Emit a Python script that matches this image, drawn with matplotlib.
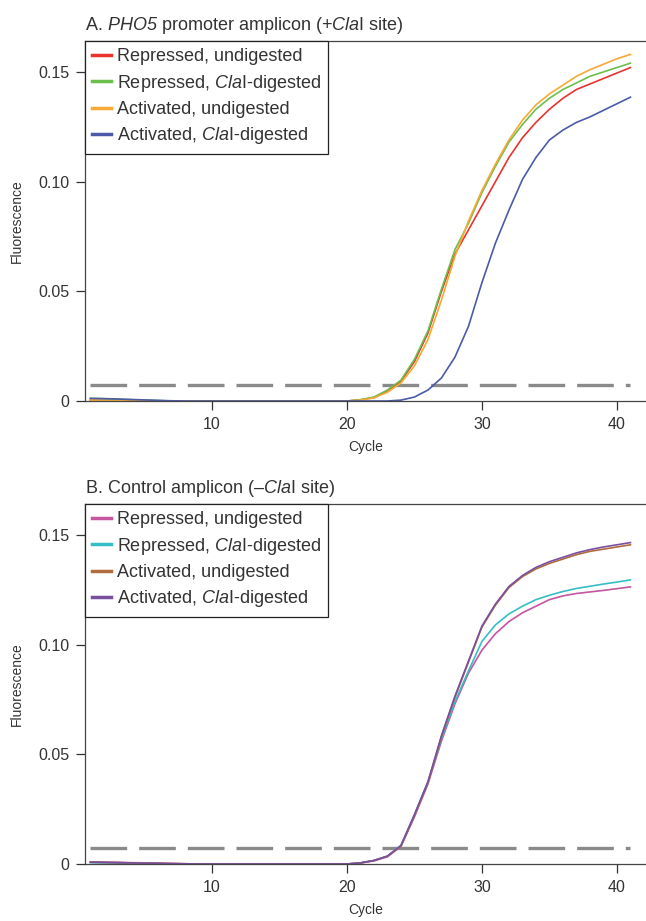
import matplotlib
matplotlib.use("Agg")
import matplotlib.pyplot as plt

plt.rcParams['font.family'] = ['Liberation Sans', 'DejaVu Sans']
plt.rcParams['mathtext.fontset'] = 'custom'
plt.rcParams['mathtext.rm'] = 'Liberation Sans'
plt.rcParams['mathtext.it'] = 'Liberation Sans:italic'
# \mathcal is used for italic runs so that digits (PHO5) stay italic too
plt.rcParams['mathtext.cal'] = 'Liberation Sans:italic'

TEXT = '#333333'

# ---- data ----
cycles = list(range(1, 42))

# Panel A: PHO5 promoter amplicon
a_rep_undig = [0.0004, 0.0003, 0.0002, 0.0001] + [0.0] * 16 + [
    0.0005, 0.0016, 0.0046, 0.009, 0.018, 0.031, 0.050, 0.067, 0.078, 0.089, 0.100,
    0.111, 0.120, 0.127, 0.133, 0.138, 0.142, 0.1445, 0.147, 0.1495, 0.152]
a_rep_dig = [0.0012, 0.0010, 0.0008, 0.0006, 0.0004, 0.0002] + [0.0] * 14 + [
    0.0006, 0.0018, 0.0050, 0.0095, 0.019, 0.032, 0.051, 0.069, 0.081, 0.095, 0.107,
    0.118, 0.126, 0.133, 0.138, 0.142, 0.145, 0.148, 0.150, 0.152, 0.154]
a_act_undig = [0.0003, 0.0002, 0.0001] + [0.0] * 17 + [
    0.0004, 0.0014, 0.0040, 0.0082, 0.016, 0.028, 0.046, 0.066, 0.082, 0.096, 0.108,
    0.119, 0.128, 0.135, 0.140, 0.144, 0.148, 0.151, 0.1535, 0.156, 0.158]
a_act_dig = [0.0012, 0.0011, 0.0009, 0.0007, 0.0005, 0.0003, 0.0001] + [0.0] * 16 + [
    0.0004, 0.0018, 0.0050, 0.0105, 0.020, 0.034, 0.054, 0.072, 0.087, 0.101, 0.111,
    0.119, 0.1235, 0.127, 0.1295, 0.1325, 0.1355, 0.1385]
a_threshold = 0.0071

# Panel B: control amplicon
b_rep_undig = [0.0010, 0.0009, 0.0008, 0.0006, 0.0005, 0.0004, 0.0002, 0.0001] + [0.0] * 12 + [
    0.0004, 0.0014, 0.0033, 0.0080, 0.0215, 0.0365, 0.056, 0.073, 0.087, 0.0975, 0.105,
    0.1105, 0.1145, 0.1175, 0.1205, 0.1222, 0.1233, 0.1240, 0.1247, 0.1255, 0.1263]
b_rep_dig = [0.0006, 0.0005, 0.0004, 0.0003, 0.0002, 0.0001, 0.0, 0.0] + [0.0] * 12 + [
    0.0005, 0.0016, 0.0036, 0.0085, 0.0225, 0.0375, 0.057, 0.074, 0.088, 0.1015, 0.109,
    0.114, 0.1175, 0.1205, 0.1225, 0.1242, 0.1256, 0.1266, 0.1276, 0.1285, 0.1295]
b_act_undig = [0.0008, 0.0007, 0.0006, 0.0005, 0.0004, 0.0003, 0.0002, 0.0001] + [0.0] * 12 + [
    0.0005, 0.0016, 0.0035, 0.0082, 0.022, 0.037, 0.058, 0.076, 0.092, 0.108, 0.118,
    0.126, 0.131, 0.1345, 0.137, 0.139, 0.141, 0.1425, 0.1435, 0.1445, 0.1455]
b_act_dig = [0.0008, 0.0007, 0.0006, 0.0005, 0.0004, 0.0003, 0.0002, 0.0001] + [0.0] * 12 + [
    0.0005, 0.0016, 0.0036, 0.0084, 0.0225, 0.0375, 0.0585, 0.0765, 0.0925, 0.1085, 0.1185,
    0.1265, 0.1315, 0.1352, 0.1378, 0.1398, 0.1418, 0.1433, 0.1445, 0.1455, 0.1465]
b_threshold = 0.0071

labels = ['Repressed, undigested', r'Repressed, $\mathcal{Cla}$I-digested',
          'Activated, undigested', r'Activated, $\mathcal{Cla}$I-digested']
a_colors = ['#e8332f', '#6dbf4c', '#f6a935', '#4c5aa8']
b_colors = ['#c4559f', '#35bec6', '#b06c3c', '#7a4f9f']

x_ticks = [10, 20, 30, 40]
y_ticks = [0, 0.05, 0.10, 0.15]
y_ticklabels = ['0', '0.05', '0.10', '0.15']


def plot_panel(ax, series, colors, threshold, title):
    for values, color, label in zip(series, colors, labels):
        ax.plot(cycles, values, color=color, lw=1.2, label=label)

    # threshold line across the cycle range
    ax.plot([cycles[0], cycles[-1]], [threshold, threshold], color='#8a8a8a',
            lw=2.4, linestyle=(0, (11.0, 3.6)), zorder=1)

    ax.set_xlim(0.6, 42.15)
    ax.set_ylim(0, 0.1641)
    ax.set_xticks(x_ticks)
    ax.set_yticks(y_ticks)
    ax.set_yticklabels(y_ticklabels)
    ax.tick_params(colors=TEXT, labelsize=11.5, length=6.5, width=0.9, pad=5)

    ax.spines['right'].set_visible(False)
    for side in ['left', 'top', 'bottom']:
        ax.spines[side].set_color('#444444')
        ax.spines[side].set_linewidth(0.9)

    ax.set_xlabel('Cycle', fontsize=10, color=TEXT, labelpad=6)
    ax.set_ylabel('Fluorescence', fontsize=10, color=TEXT, labelpad=10)
    ax.set_title(title, loc='left', fontsize=13, color=TEXT, pad=8)

    leg = ax.legend(loc='upper left', borderaxespad=0, fontsize=13,
                    handlelength=1.05, handletextpad=0.3, labelspacing=0.41,
                    borderpad=0.4, fancybox=False, framealpha=1)
    leg.get_frame().set_edgecolor('#222222')
    leg.get_frame().set_linewidth(0.9)
    for line in leg.get_lines():
        line.set_linewidth(2.5)
    for text in leg.get_texts():
        text.set_color(TEXT)


fig = plt.figure(figsize=(6.46, 9.21), dpi=100)
ax_a = fig.add_axes([0.1316, 0.5646, 0.8684, 0.3909])
ax_b = fig.add_axes([0.1316, 0.0619, 0.8684, 0.3909])

plot_panel(ax_a, [a_rep_undig, a_rep_dig, a_act_undig, a_act_dig], a_colors,
           a_threshold, r'A. $\mathcal{PHO5}$ promoter amplicon (+$\mathcal{Cla}$I site)')
plot_panel(ax_b, [b_rep_undig, b_rep_dig, b_act_undig, b_act_dig], b_colors,
           b_threshold, r'B. Control amplicon (–$\mathcal{Cla}$I site)')

fig.savefig('out.png', dpi=100)
